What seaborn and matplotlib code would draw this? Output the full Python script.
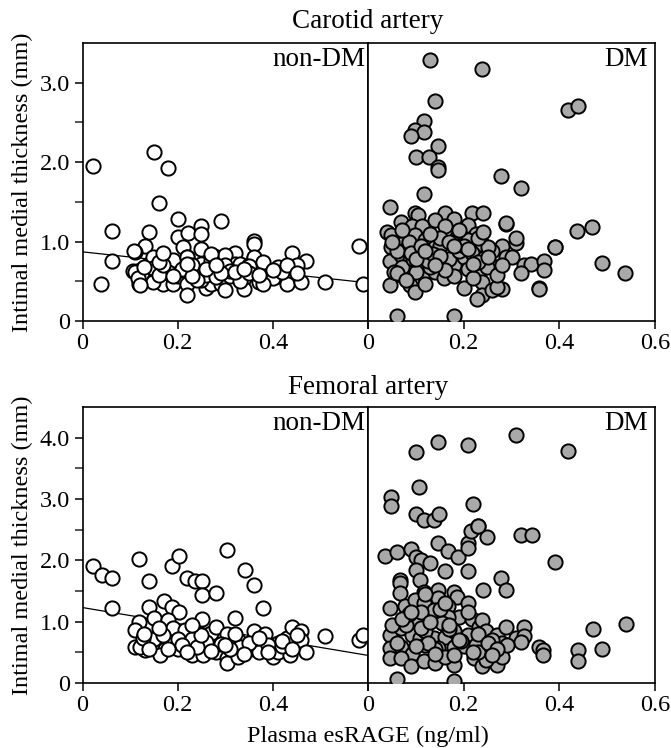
import matplotlib.pyplot as plt
import pandas as pd
import seaborn as sns

# Carotid artery, non-DM (esRAGE ng/ml, IMT mm)
carotid_nondm_x = [0.021, 0.039, 0.061, 0.061, 0.15, 0.18, 0.161, 0.20, 0.20, 0.14, 0.131, 0.111,
                   0.106, 0.119, 0.12, 0.13, 0.14, 0.15, 0.15, 0.15, 0.17, 0.18, 0.19, 0.19, 0.20,
                   0.211, 0.221, 0.22, 0.21, 0.22, 0.22, 0.24, 0.25, 0.25, 0.25, 0.25, 0.26, 0.271,
                   0.28, 0.29, 0.29, 0.29, 0.30, 0.30, 0.31, 0.32, 0.32, 0.33, 0.34, 0.34, 0.35,
                   0.36, 0.36, 0.36, 0.37, 0.38, 0.39, 0.41, 0.41, 0.43, 0.44, 0.44, 0.46, 0.47,
                   0.51, 0.58, 0.59, 0.149, 0.19, 0.22, 0.28, 0.30, 0.36, 0.45, 0.35, 0.30, 0.27,
                   0.24, 0.21, 0.18, 0.149, 0.11, 0.117, 0.149, 0.12, 0.25, 0.40, 0.38, 0.108,
                   0.23, 0.26, 0.27, 0.31, 0.33, 0.35, 0.38, 0.42, 0.16, 0.24, 0.28, 0.27, 0.23, 0.17,
                   0.13, 0.16, 0.19, 0.22, 0.26, 0.29, 0.32, 0.34, 0.37, 0.40, 0.43, 0.45, 0.17, 0.28]
carotid_nondm_y = [1.95, 0.46, 1.13, 0.75, 2.13, 1.92, 1.48, 1.28, 1.06, 1.12, 0.95, 0.87,
                   0.63, 0.47, 0.64, 0.54, 0.72, 0.79, 0.66, 0.51, 0.47, 0.61, 0.75, 0.47, 0.56,
                   0.93, 1.11, 0.80, 0.64, 0.47, 0.33, 0.60, 1.19, 1.09, 0.90, 0.72, 0.41, 0.47,
                   0.80, 1.26, 0.66, 0.47, 0.72, 0.39, 0.56, 0.86, 0.72, 0.72, 0.54, 0.40, 0.70,
                   1.01, 0.97, 0.79, 0.49, 0.66, 0.56, 0.68, 0.56, 0.46, 0.86, 0.68, 0.49, 0.75,
                   0.49, 0.95, 0.47, 0.81, 0.77, 0.81, 0.81, 0.83, 0.81, 0.70, 0.69, 0.71, 0.68,
                   0.62, 0.66, 0.62, 0.67, 0.62, 0.54, 0.49, 0.45, 0.52, 0.54, 0.47, 0.88,
                   0.70, 0.58, 0.76, 0.63, 0.50, 0.60, 0.74, 0.62, 0.58, 0.51, 0.55, 0.84, 0.56, 0.70,
                   0.68, 0.74, 0.56, 0.72, 0.66, 0.60, 0.62, 0.66, 0.58, 0.64, 0.70, 0.60, 0.85, 0.70]

# Carotid artery, DM
carotid_dm_x = [0.046, 0.098, 0.105, 0.16, 0.18, 0.218, 0.24, 0.288, 0.039, 0.048, 0.069, 0.091,
                0.112, 0.14, 0.16, 0.186, 0.21, 0.225, 0.098, 0.048, 0.069, 0.119, 0.14, 0.168,
                0.19, 0.21, 0.239, 0.28, 0.309, 0.309, 0.39, 0.046, 0.069, 0.088, 0.109, 0.133,
                0.154, 0.179, 0.20, 0.218, 0.242, 0.267, 0.288, 0.30, 0.326, 0.34, 0.368, 0.368,
                0.319, 0.069, 0.091, 0.116, 0.14, 0.158, 0.179, 0.21, 0.232, 0.249, 0.046, 0.088,
                0.098, 0.119, 0.20, 0.239, 0.239, 0.228, 0.26, 0.28, 0.27, 0.358, 0.06, 0.179,
                0.13, 0.239, 0.139, 0.118, 0.098, 0.118, 0.089, 0.147, 0.10, 0.128, 0.147, 0.147,
                0.279, 0.319, 0.118, 0.418, 0.439, 0.437, 0.468, 0.39, 0.49, 0.538, 0.358, 0.288,
                0.08, 0.12, 0.15, 0.17, 0.13, 0.10, 0.19, 0.23, 0.26, 0.07, 0.11, 0.15, 0.20,
                0.06, 0.16, 0.25, 0.27, 0.125, 0.095, 0.175, 0.22, 0.055, 0.085, 0.135,
                0.05, 0.07, 0.09, 0.11, 0.13, 0.15, 0.17, 0.19, 0.21, 0.23, 0.25, 0.06, 0.08,
                0.10, 0.12, 0.14, 0.18, 0.22, 0.24, 0.28]
carotid_dm_y = [1.43, 1.36, 1.34, 1.36, 1.28, 1.36, 1.36, 1.22, 1.12, 1.08, 1.24, 1.19,
                1.19, 1.27, 1.19, 1.06, 1.21, 1.10, 1.08, 0.93, 0.97, 1.02, 0.93, 0.89,
                0.95, 1.02, 0.97, 0.95, 0.98, 1.05, 0.93, 0.75, 0.83, 0.77, 0.72, 0.79,
                0.72, 0.70, 0.80, 0.85, 0.79, 0.68, 0.81, 0.81, 0.70, 0.72, 0.75, 0.64,
                0.60, 0.58, 0.66, 0.58, 0.62, 0.54, 0.56, 0.66, 0.60, 0.68, 0.45, 0.45,
                0.37, 0.47, 0.41, 0.49, 0.33, 0.28, 0.39, 0.40, 0.43, 0.41, 0.06, 0.06,
                3.28, 3.17, 2.77, 2.52, 2.41, 2.38, 2.33, 2.20, 2.06, 2.06, 1.94, 1.90,
                1.83, 1.68, 1.60, 2.65, 2.71, 1.13, 1.18, 0.93, 0.73, 0.60, 0.40, 1.23,
                0.90, 0.85, 0.95, 0.78, 0.68, 0.62, 0.88, 0.74, 0.88, 0.68, 0.92, 1.05, 0.95,
                0.88, 0.64, 0.93, 0.58, 0.76, 0.78, 0.99, 0.54, 0.62, 1.00, 0.84,
                1.00, 1.15, 0.85, 0.95, 1.10, 0.82, 1.00, 1.15, 0.90, 1.05, 0.80, 0.60, 0.52,
                0.78, 0.88, 0.70, 0.95, 0.72, 1.12, 0.70]

# Femoral artery, non-DM
femoral_nondm_x = [0.021, 0.04, 0.062, 0.062, 0.119, 0.14, 0.189, 0.203, 0.22, 0.236, 0.252, 0.252,
                   0.28, 0.303, 0.342, 0.36, 0.38, 0.14, 0.171, 0.189, 0.203, 0.119, 0.15, 0.18,
                   0.252, 0.32, 0.11, 0.163, 0.19, 0.215, 0.243, 0.27, 0.28, 0.303, 0.327, 0.36,
                   0.384, 0.41, 0.43, 0.44, 0.46, 0.46, 0.51, 0.11, 0.131, 0.152, 0.173, 0.20,
                   0.163, 0.23, 0.254, 0.28, 0.303, 0.303, 0.327, 0.352, 0.37, 0.40, 0.41, 0.436,
                   0.47, 0.20, 0.23, 0.26, 0.33, 0.15, 0.12, 0.58, 0.59, 0.127, 0.21, 0.29, 0.35,
                   0.39, 0.24, 0.17, 0.31, 0.42,
                   0.13, 0.16, 0.18, 0.22, 0.25, 0.27, 0.30, 0.32, 0.34, 0.37, 0.39, 0.42, 0.44,
                   0.45, 0.14, 0.23]
femoral_nondm_y = [1.91, 1.76, 1.72, 1.22, 2.02, 1.67, 1.91, 2.07, 1.72, 1.67, 1.67, 1.44,
                   1.46, 2.17, 1.85, 1.60, 1.22, 1.24, 1.34, 1.24, 1.15, 0.99, 1.06, 1.03,
                   1.04, 1.06, 0.87, 0.87, 0.89, 0.87, 0.80, 0.81, 0.92, 0.80, 0.70, 0.84,
                   0.80, 0.66, 0.74, 0.92, 0.84, 0.70, 0.77, 0.58, 0.53, 0.62, 0.56, 0.56,
                   0.46, 0.45, 0.46, 0.51, 0.40, 0.32, 0.43, 0.56, 0.51, 0.43, 0.50, 0.45,
                   0.51, 0.71, 0.71, 0.67, 0.59, 0.71, 0.59, 0.70, 0.78, 0.74, 0.62, 0.64, 0.66,
                   0.62, 0.58, 0.78, 0.55, 0.60,
                   0.80, 0.90, 0.55, 0.50, 0.78, 0.52, 0.62, 0.80, 0.48, 0.74, 0.50, 0.68, 0.56,
                   0.78, 0.55, 0.95]

# Femoral artery, DM
femoral_dm_x = [0.036, 0.06, 0.09, 0.10, 0.111, 0.13, 0.10, 0.147, 0.168, 0.188, 0.16, 0.209,
                0.209, 0.209, 0.216, 0.23, 0.249, 0.319, 0.342, 0.39, 0.067, 0.067, 0.067, 0.109,
                0.118, 0.147, 0.179, 0.186, 0.209, 0.24, 0.279, 0.288, 0.046, 0.077, 0.098, 0.118,
                0.146, 0.168, 0.19, 0.218, 0.098, 0.137, 0.168, 0.232, 0.239, 0.046, 0.069, 0.091,
                0.109, 0.137, 0.161, 0.179, 0.209, 0.246, 0.27, 0.288, 0.309, 0.326, 0.326, 0.319,
                0.046, 0.069, 0.091, 0.119, 0.147, 0.179, 0.20, 0.225, 0.256, 0.281, 0.046, 0.069,
                0.09, 0.118, 0.14, 0.179, 0.221, 0.239, 0.27, 0.281, 0.358, 0.366, 0.366, 0.439,
                0.439, 0.06, 0.179, 0.16, 0.246, 0.10, 0.147, 0.208, 0.31, 0.419, 0.107, 0.047,
                0.047, 0.10, 0.118, 0.138, 0.149, 0.219, 0.23, 0.47, 0.49, 0.54, 0.08, 0.12,
                0.155, 0.195, 0.26, 0.11, 0.14, 0.23, 0.085, 0.125, 0.17, 0.29,
                0.05, 0.07, 0.09, 0.11, 0.13, 0.15, 0.17, 0.19, 0.21, 0.23, 0.25, 0.27, 0.06,
                0.10, 0.14, 0.18, 0.22, 0.26, 0.12, 0.16]
femoral_dm_y = [2.07, 2.14, 2.18, 2.05, 2.01, 1.95, 1.84, 2.28, 2.16, 2.05, 1.83, 1.83,
                2.28, 2.20, 2.47, 2.56, 2.38, 2.41, 2.41, 1.97, 1.68, 1.63, 1.46, 1.68,
                1.49, 1.52, 1.49, 1.41, 1.31, 1.51, 1.71, 1.51, 1.22, 1.25, 1.36, 1.30,
                1.38, 1.26, 1.08, 1.05, 1.05, 1.19, 1.07, 0.92, 1.03, 0.78, 0.89, 0.78,
                0.73, 0.74, 0.75, 0.84, 0.78, 0.84, 0.78, 0.92, 0.73, 0.91, 0.77, 0.67,
                0.57, 0.59, 0.48, 0.62, 0.57, 0.59, 0.60, 0.62, 0.51, 0.66, 0.40, 0.40,
                0.27, 0.36, 0.32, 0.29, 0.40, 0.27, 0.29, 0.43, 0.59, 0.54, 0.46, 0.53,
                0.36, 0.06, 0.04, 0.43, 0.37, 3.76, 3.93, 3.88, 4.05, 3.79, 3.19, 3.03,
                2.89, 2.76, 2.66, 2.66, 2.76, 2.92, 2.56, 0.88, 0.56, 0.96, 0.95, 0.85,
                0.98, 0.68, 0.70, 1.15, 0.55, 0.50, 1.12, 0.66, 0.88, 0.62,
                0.95, 1.05, 1.15, 0.90, 1.00, 1.20, 0.95, 0.70, 1.15, 0.80, 0.65, 0.55, 0.65,
                0.60, 0.48, 0.45, 0.50, 0.45, 1.45, 1.30]

# regression line in non-DM panels: fitted value at x = 0 and x = 0.6
carotid_fit = [0.87, 0.48]
femoral_fit = [1.23, 0.45]
fit_x = [0.0, 0.6]

sns.set_style('ticks')
plt.rcParams['font.family'] = ['Liberation Serif', 'DejaVu Serif']
plt.rcParams['text.color'] = 'black'
plt.rcParams['axes.labelcolor'] = 'black'

fig = plt.figure(figsize=(6.71, 7.48), dpi=100)

FS = 17.5
FS_BIG = 19.5
GREY = '#a9a9a9'


def style_axis(ax, ymax, show_y):
    ax.set_xlim(0, 0.6)
    ax.set_ylim(0, ymax)
    for sp in ax.spines.values():
        sp.set_visible(True)
        sp.set_linewidth(1.2)
        sp.set_color('black')
    ax.tick_params(axis='both', direction='out', length=6, width=1.1,
                   labelsize=FS, colors='black', pad=3, top=False, right=False)
    ax.tick_params(axis='y', which='minor', direction='out', length=6, width=1.1)
    ax.set_xlabel('')
    ax.set_ylabel('')
    if show_y:
        major = list(range(0, int(ymax) + 1))
        ax.set_yticks(major)
        ax.set_yticklabels(['0'] + [f'{v:.1f}' for v in major[1:]])
        ax.set_yticks([v + 0.5 for v in major if v + 0.5 < ymax], minor=True)
    else:
        ax.set_yticks([])


def draw_row(rect_l, rect_r, nd_x, nd_y, dm_x, dm_y, fit, ymax, title, title_y):
    ax_l = fig.add_axes(rect_l)
    ax_r = fig.add_axes(rect_r)

    nd = pd.DataFrame({'esRAGE': nd_x, 'IMT': nd_y})
    dm = pd.DataFrame({'esRAGE': dm_x, 'IMT': dm_y})

    sns.scatterplot(data=nd, x='esRAGE', y='IMT', ax=ax_l, s=105, color='white',
                    edgecolor='black', linewidth=1.4, zorder=3)
    ax_l.plot(fit_x, fit, color='black', linewidth=0.9, zorder=2)
    sns.scatterplot(data=dm, x='esRAGE', y='IMT', ax=ax_r, s=105, color=GREY,
                    edgecolor='black', linewidth=1.4, zorder=3)

    style_axis(ax_l, ymax, True)
    style_axis(ax_r, ymax, False)
    ax_l.set_xticks([0, 0.2, 0.4, 0.6])
    ax_l.set_xticklabels(['0', '0.2', '0.4', ''])
    ax_r.set_xticks([0, 0.2, 0.4, 0.6])
    ax_r.set_xticklabels(['0', '0.2', '0.4', '0.6'])

    ax_l.set_ylabel('Intimal medial thickness (mm)', fontsize=FS, labelpad=5)
    ax_l.text(0.99, 0.985, 'non-DM', transform=ax_l.transAxes, ha='right', va='top',
              fontsize=FS_BIG)
    ax_r.text(0.975, 0.985, 'DM', transform=ax_r.transAxes, ha='right', va='top',
              fontsize=FS_BIG)
    fig.text(368 / 671, title_y, title, ha='center', va='center', fontsize=FS_BIG)
    return ax_l, ax_r


draw_row([0.123, 0.5709, 0.4255, 0.3717], [0.5485, 0.5709, 0.4277, 0.3717],
         carotid_nondm_x, carotid_nondm_y, carotid_dm_x, carotid_dm_y,
         carotid_fit, 3.5, 'Carotid artery', 1 - 22 / 748)

draw_row([0.123, 0.0869, 0.4255, 0.369], [0.5485, 0.0869, 0.4277, 0.369],
         femoral_nondm_x, femoral_nondm_y, femoral_dm_x, femoral_dm_y,
         femoral_fit, 4.5, 'Femoral artery', 1 - 388 / 748)

fig.text(368 / 671, 1 - 736 / 748, 'Plasma esRAGE (ng/ml)', ha='center', va='center',
         fontsize=FS)

fig.savefig('out.png', dpi=100, facecolor='white')
